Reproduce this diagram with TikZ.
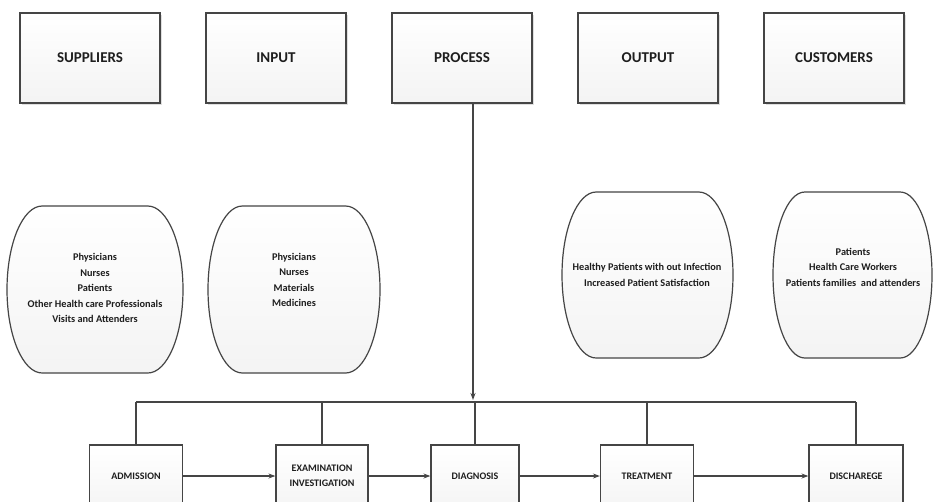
\documentclass[tikz,border=0pt]{standalone}
\usepackage{fontspec}
\setmainfont{Carlito}
\usetikzlibrary{arrows.meta,shadows}
\definecolor{ln}{HTML}{454545}
\definecolor{tx}{HTML}{1E1E1E}
\tikzset{
  topbox/.style={draw=ln, line width=1.3pt, top color=white, bottom color=gray!9,
    minimum width=140pt, minimum height=90pt, inner sep=0pt,
    font=\fontsize{15}{17}\selectfont\bfseries, text=tx,
    drop shadow={opacity=0.25, shadow xshift=1.5pt, shadow yshift=-1.5pt}},
  stepbox/.style={draw=ln, line width=1.2pt, top color=white, bottom color=gray!8,
    minimum height=62pt, inner sep=0pt, align=center,
    font=\fontsize{10}{15}\selectfont\bfseries, text=tx},
  barrel/.style={draw=ln, line width=1.2pt, top color=white, bottom color=gray!9},
  shapetext/.style={align=center, font=\fontsize{10.3}{15.5}\selectfont\bfseries, text=tx, inner sep=0pt},
  conn/.style={draw=ln, line width=1.2pt},
  flow/.style={conn, -{Stealth[length=7pt,width=5pt]}}
}
% #1 x0, #2 y0, #3 x1, #4 y1 (y grows downward)
\newcommand\barrelshape[4]{%
  \pgfmathsetmacro\brx{0.2*(#3-#1)}%
  \pgfmathsetmacro\bry{0.5*(#4-#2)}%
  \path[barrel] ({#1+\brx},{#2}) -- ({#3-\brx},{#2})
    arc[start angle=90, end angle=-90, x radius=\brx pt, y radius=\bry pt]
    -- ({#1+\brx},{#4})
    arc[start angle=270, end angle=90, x radius=\brx pt, y radius=\bry pt]
    -- cycle;}
\begin{document}
\begin{tikzpicture}[x=1pt,y=-1pt]
\useasboundingbox (0,0) rectangle (933,501);
\clip (0,0) rectangle (933,501);
\fill[white] (0,0) rectangle (933,501);
% top boxes
\node[topbox] (sup) at (90,58) {SUPPLIERS};
\node[topbox] (inp) at (276,58) {INPUT};
\node[topbox] (proc) at (462,58) {PROCESS};
\node[topbox] (out) at (648,58) {OUTPUT};
\node[topbox] (cus) at (834,58) {CUSTOMERS};
% barrel shapes
\barrelshape{7}{206}{183}{373}
\barrelshape{208}{206}{380}{373}
\barrelshape{562}{192}{733}{358}
\barrelshape{773}{192}{932}{358}
\node[shapetext] (supt) at (95,288) {Physicians\\Nurses\\Patients\\Other Health care Professionals\\Visits and Attenders};
\node[shapetext] (inpt) at (294,280) {Physicians\\Nurses\\Materials\\Medicines};
\node[shapetext] (outt) at (647,275) {Healthy Patients with out Infection\\Increased Patient Satisfaction};
\node[shapetext] (cust) at (853,267) {Patients\\Health Care Workers\\Patients families\ \ and attenders};
% steps
\node[stepbox, minimum width=93pt] (adm) at (136,476) {ADMISSION};
\node[stepbox, minimum width=92pt] (exa) at (322,476) {EXAMINATION\\INVESTIGATION};
\node[stepbox, minimum width=88pt] (dia) at (475,476) {DIAGNOSIS};
\node[stepbox, minimum width=93pt] (tre) at (647,476) {TREATMENT};
\node[stepbox, minimum width=94pt] (dis) at (856,476) {DISCHAREGE};
% bus
\coordinate (busL) at (adm.north |- 0,402);
\coordinate (busR) at (dis.north |- 0,402);
\coordinate (pfoot) at (473,103);
\coordinate (ptip) at (473,400);
\draw[conn] (busL) -- (busR);
\draw[conn] (busL) -- (adm.north);
\draw[conn] (exa.north |- busL) -- (exa.north);
\draw[conn] (dia.north |- busL) -- (dia.north);
\draw[conn] (tre.north |- busL) -- (tre.north);
\draw[conn] (busR) -- (dis.north);
\draw[flow] (pfoot) -- (ptip);
% flow arrows
\draw[flow] (adm.east) -- (exa.west);
\draw[flow] (exa.east) -- (dia.west);
\draw[flow] (dia.east) -- (tre.west);
\draw[flow] (tre.east) -- (dis.west);
\end{tikzpicture}
\end{document}
